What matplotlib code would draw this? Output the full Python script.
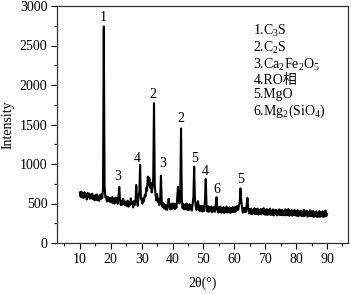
import numpy as np
import matplotlib
matplotlib.use("Agg")
import matplotlib.pyplot as plt
from matplotlib.ticker import MultipleLocator

plt.rcParams['font.family'] = ['Liberation Serif', 'Noto Sans CJK SC']
plt.rcParams['mathtext.fontset'] = 'custom'
plt.rcParams['mathtext.rm'] = 'Liberation Serif'
plt.rcParams['mathtext.it'] = 'Liberation Serif'

# 2theta grid, 10..90 step 0.25
two_theta = np.linspace(10, 90, 321)
intensity = [
    640, 585, 650, 575, 625, 570, 645, 590, 620, 550, 635, 580, 625, 560, 615, 565, 625, 555, 590, 540,
    605, 550, 615, 540, 590, 535, 610, 555, 615, 570, 680, 2740, 720, 580, 590, 525, 585, 530, 570, 520,
    570, 515, 580, 505, 555, 500, 575, 520, 565, 495, 580, 710, 545, 480, 535, 485, 560, 490, 525, 475,
    525, 470, 535, 460, 515, 480, 565, 500, 520, 450, 530, 480, 525, 735, 560, 470, 600, 640, 990, 560,
    545, 500, 570, 530, 610, 590, 700, 660, 840, 730, 820, 700, 760, 640, 700, 820, 1770, 720, 610, 540,
    620, 520, 560, 480, 545, 850, 520, 455, 505, 440, 490, 425, 480, 420, 470, 560, 470, 425, 490, 430,
    500, 440, 495, 430, 490, 445, 560, 710, 600, 500, 610, 1450, 560, 440, 495, 425, 480, 430, 500, 420,
    485, 415, 490, 430, 475, 410, 490, 580, 967, 560, 470, 415, 490, 530, 460, 405, 465, 410, 470, 400,
    460, 405, 540, 810, 480, 400, 465, 395, 455, 405, 460, 390, 450, 400, 455, 395, 490, 580, 430, 385,
    450, 390, 460, 385, 445, 395, 455, 380, 440, 390, 460, 385, 445, 395, 450, 380, 440, 390, 455, 395,
    450, 395, 460, 410, 470, 420, 480, 520, 690, 530, 450, 385, 445, 390, 440, 395, 480, 570, 430, 375,
    430, 370, 435, 365, 420, 375, 440, 365, 425, 370, 435, 360, 420, 370, 430, 365, 425, 375, 440, 360,
    420, 360, 430, 355, 415, 365, 435, 355, 410, 360, 425, 350, 415, 365, 420, 350, 410, 360, 425, 355,
    415, 355, 420, 350, 405, 355, 425, 350, 410, 355, 430, 345, 405, 360, 415, 345, 410, 355, 420, 350,
    405, 345, 415, 340, 400, 350, 410, 340, 395, 345, 420, 340, 400, 350, 410, 335, 395, 345, 415, 340,
    400, 335, 405, 330, 390, 340, 400, 330, 385, 335, 405, 330, 390, 340, 400, 330, 395, 335, 410, 340,
    370,
]

peak_labels = ['1', '2', '2', '3', '4', '3', '5', '4', '6', '5']
peak_label_x = [17.7, 33.6, 42.7, 22.4, 28.7, 36.8, 47.0, 50.7, 54.2, 62.1]
peak_label_y = [2852, 1876, 1572, 836, 1073, 1010, 1073, 904, 680, 798]

legend_lines = ['1.C$_3$S', '2.C$_2$S', '3.Ca$_2$Fe$_2$O$_5$', '4.RO相', '5.MgO', '6.Mg$_2$(SiO$_4$)']

fig = plt.figure(figsize=(3.51, 2.94), dpi=100)
ax = fig.add_axes([57/351, 1 - 243/294, (348-57)/351, (243-6)/294])
ax.plot(two_theta, intensity, color='black', lw=1.5)

ax.set_xlim(2.6, 96.8)
ax.set_ylim(0, 3000)
ax.xaxis.set_major_locator(MultipleLocator(10))
ax.xaxis.set_minor_locator(MultipleLocator(5))
ax.yaxis.set_major_locator(MultipleLocator(500))
ax.yaxis.set_minor_locator(MultipleLocator(250))
ax.tick_params(which='major', direction='out', length=4, width=0.8, labelsize=10, pad=3)
ax.tick_params(which='minor', direction='out', length=2, width=0.8)
for s in ax.spines.values():
    s.set_linewidth(0.9)
    s.set_color('#333333')

ax.set_xlabel('2θ(°)', fontsize=10, labelpad=8)
ax.set_ylabel('Intensity', fontsize=10, labelpad=4)

for t, x, y in zip(peak_labels, peak_label_x, peak_label_y):
    ax.text(x, y, t, ha='center', va='center', fontsize=10)

ax.text(0.675, 0.93, '\n'.join(legend_lines), transform=ax.transAxes,
        ha='left', va='top', fontsize=10, linespacing=1.1)

fig.savefig('out.png', dpi=100)
